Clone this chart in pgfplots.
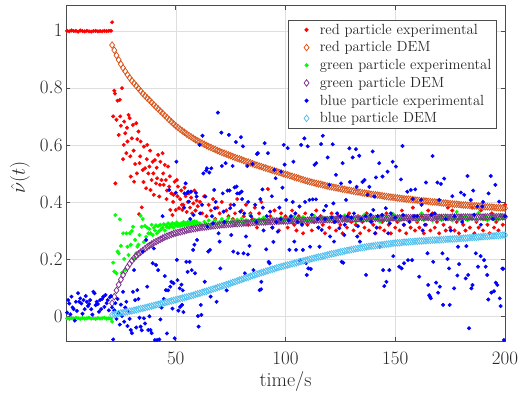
\RequirePackage{fix-cm}
\documentclass[border=0pt]{standalone}
\usepackage{pgfplots}
\pgfplotsset{compat=1.18}
\definecolor{redexp}{rgb}{1,0,0}
\definecolor{reddem}{rgb}{0.85,0.325,0.098}
\definecolor{greenexp}{rgb}{0,1,0}
\definecolor{greendem}{rgb}{0.494,0.184,0.556}
\definecolor{blueexp}{rgb}{0,0,1}
\definecolor{bluedem}{rgb}{0.301,0.745,0.933}
\pgfplotsset{
 legimg/.style={legend image code/.code={\path[draw=none,fill=none] (0pt,0pt) (26pt,0pt); \draw[##1] plot[only marks] coordinates {(15.7pt,0pt)};}},
 expdots/.style={only marks, mark=*, mark size=1.8pt, color=#1, mark options={draw=none, fill=#1}, legimg},
 demdia/.style={only marks, mark=diamond, mark size=3.3pt, color=#1, mark options={line width=0.75pt, fill=none}, legimg},
}
\begin{document}
\begin{tikzpicture}
\useasboundingbox (-66pt,-58.3pt) rectangle (455pt,341.7pt);
\begin{axis}[
 at={(0pt,0pt)}, anchor=south west,
 width=439pt, height=336pt, scale only axis,
 xmin=0, xmax=200, ymin=-0.09, ymax=1.088,
 xtick={50,100,150,200}, ytick={0,0.2,0.4,0.6,0.8,1},
 xticklabels={$50$,$100$,$150$,$200$},
 yticklabels={$0$,$0.2$,$0.4$,$0.6$,$0.8$,$1$},
 xtick pos=both, ytick pos=both, tick align=inside,
 major tick length=4.5pt,
 grid=major, major grid style={black!13, line width=0.5pt},
 axis line style={black!70, line width=0.6pt},
 every tick/.style={black!70, line width=0.6pt},
 tick label style={font=\fontsize{19}{19}\selectfont, color=black!85, inner sep=0pt},
 yticklabel style={xshift=-3.3pt},
 xticklabel style={yshift=-10pt},
 xlabel={time/s},
 xlabel style={font=\fontsize{20}{20}\selectfont, color=black!85, at={(axis description cs:0.5,0)}, anchor=center, yshift=-40pt},
 ylabel={$\hat{\nu}(t)$},
 ylabel style={font=\fontsize{20}{20}\selectfont, color=black!85, at={(axis description cs:-0.1048,0.49)}, anchor=center},
 legend style={at={(1,1)}, anchor=north east, xshift=-8pt, yshift=-14pt, draw=black!70, line width=0.6pt, fill=white,
   font=\fontsize{14.7}{14.7}\selectfont, text=black!85, inner xsep=2.3pt, inner ysep=1pt, nodes={inner sep=3pt}, row sep=0pt},
 legend cell align=left,
 clip=false,
]
% red particle experimental
\addplot[expdots=redexp] coordinates {
(0.5,1.0)(1.5,0.998)(2.5,1.001)(3.5,0.999)(4.5,1.0)(5.5,0.997)(6.5,1.001)(7.5,0.999)(8.5,0.998)(9.5,1.0)(10.5,0.998)(11.5,0.997)(12.5,0.999)(13.5,1.0)(14.5,0.998)(15.5,0.999)(16.5,0.998)(17.5,1.0)(18.5,0.999)(19.5,1.0)(20.5,1.0)
(21.0,1.03)(21.5,0.70)(22.0,0.79)(22.5,0.465)(23.0,0.688)(23.5,0.755)(24.0,0.635)(24.5,0.758)(25.0,0.667)(25.5,0.799)
(26.0,0.55)(26.5,0.682)(27.0,0.641)(27.5,0.571)(28.0,0.612)(28.5,0.705)(29.0,0.694)(29.5,0.489)(30.0,0.623)(30.5,0.670)
(31.0,0.471)(31.5,0.533)(32.0,0.676)(32.5,0.62)(33.0,0.647)(33.5,0.536)(34.0,0.612)(34.5,0.381)(35.0,0.512)(35.5,0.594)
(36.0,0.518)(36.5,0.448)(37.0,0.60)(37.5,0.50)(38.0,0.524)(38.5,0.442)(39.0,0.477)(39.5,0.541)(40.0,0.425)(40.5,0.547)
(41.0,0.465)(41.5,0.483)(42.0,0.565)(42.5,0.419)(43.0,0.541)(43.5,0.477)(44.0,0.571)(44.5,0.46)(45.0,0.53)(45.5,0.477)
(46.0,0.44)(46.5,0.524)(47.0,0.454)(47.5,0.372)(48.0,0.43)(48.5,0.354)(49.0,0.425)(49.5,0.471)(50.0,0.372)(50.5,0.477)
(51.0,0.454)(51.5,0.378)(52.0,0.41)(52.5,0.44)(53.0,0.372)(53.5,0.39)(54.0,0.45)(54.5,0.42)(55.0,0.365)(55.5,0.40)
(56.0,0.43)(56.5,0.38)(57.0,0.415)(57.5,0.36)(58.0,0.395)(58.5,0.44)(59.0,0.37)(59.5,0.405)(60.0,0.385)(33.3,0.357)
(22.3,0.78)(24.7,0.70)(26.3,0.60)(27.8,0.66)(29.3,0.56)(30.8,0.58)(32.3,0.50)(33.8,0.56)(35.3,0.47)(36.8,0.55)
(38.3,0.58)(39.8,0.50)(41.3,0.52)(42.8,0.46)(44.3,0.50)(45.8,0.41)(47.3,0.49)(48.8,0.40)(50.8,0.42)(52.8,0.39)
(61,0.40)(62,0.36)(63,0.42)(64,0.35)(65,0.39)(66,0.37)(67,0.41)(68,0.34)(69,0.38)(70,0.36)
(71,0.40)(72,0.33)(73,0.37)(74,0.35)(75,0.39)(76,0.34)(77,0.36)(78,0.41)(79,0.33)(80,0.37)
(81,0.35)(82,0.39)(83,0.32)(84,0.36)(85,0.34)(86,0.38)(87,0.31)(88,0.36)(89,0.40)(90,0.34)
(91,0.33)(92,0.445)(93,0.35)(94,0.31)(95,0.37)(96,0.34)(97,0.30)(98,0.36)(99,0.33)(100,0.35)
(101,0.31)(102,0.34)(103,0.37)(104,0.32)(105,0.30)(106,0.35)(107,0.33)(108,0.29)(109,0.36)(110,0.32)
(111,0.34)(112,0.30)(113,0.33)(114,0.37)(115,0.31)(116,0.35)(117,0.32)(118,0.29)(119,0.34)(120,0.31)
(121,0.36)(122,0.33)(123,0.30)(124,0.35)(125,0.32)(126,0.29)(127,0.34)(128,0.31)(129,0.36)(130,0.33)
(131,0.30)(132,0.32)(133,0.35)(134,0.29)(135,0.33)(136,0.31)(137,0.36)(138,0.30)(139,0.34)(140,0.32)
(141,0.29)(142,0.35)(143,0.31)(144,0.33)(145,0.30)(146,0.36)(147,0.32)(148,0.29)(149,0.34)(150,0.31)
(151,0.33)(152,0.30)(153,0.37)(154,0.32)(155,0.29)(156,0.34)(157,0.31)(158,0.38)(159,0.30)(160,0.33)
(161,0.31)(162,0.35)(163,0.29)(164,0.32)(165,0.37)(166,0.30)(167,0.36)(168,0.31)(169,0.33)(170,0.29)
(171,0.35)(172,0.32)(173,0.30)(174,0.38)(175,0.31)(176,0.37)(177,0.30)(178,0.33)(179,0.29)(180,0.35)
(181,0.32)(182,0.30)(183,0.34)(184,0.31)(185,0.38)(186,0.29)(187,0.33)(188,0.31)(189,0.37)(190,0.30)
(191,0.34)(192,0.32)(193,0.29)(194,0.36)(195,0.31)(196,0.33)(197,0.30)(198,0.35)(199,0.32)(200,0.39)
};
\addlegendentry{red particle experimental}
% red particle DEM
\addplot[demdia=reddem] coordinates {
(21,0.95)(22,0.932)(23,0.914)(24,0.898)(25,0.883)(26,0.870)(27,0.858)(28,0.846)(29,0.835)(30,0.825)
(31,0.816)(32,0.807)(33,0.798)(34,0.789)(35,0.78)(36,0.772)(37,0.764)(38,0.757)(39,0.749)(40,0.741)
(41,0.733)(42,0.726)(43,0.718)(44,0.711)(45,0.703)(46,0.696)(47,0.688)(48,0.681)(49,0.674)(50,0.667)
(51,0.661)(52,0.655)(53,0.649)(54,0.644)(55,0.638)(56,0.633)(57,0.628)(58,0.623)(59,0.618)(60,0.614)
(61,0.61)(62,0.606)(63,0.602)(64,0.598)(65,0.594)(66,0.591)(67,0.587)(68,0.584)(69,0.58)(70,0.577)
(71,0.574)(72,0.571)(73,0.568)(74,0.565)(75,0.562)(76,0.559)(77,0.556)(78,0.553)(79,0.551)(80,0.548)
(81,0.545)(82,0.542)(83,0.54)(84,0.537)(85,0.534)(86,0.531)(87,0.529)(88,0.526)(89,0.524)(90,0.521)
(91,0.519)(92,0.516)(93,0.514)(94,0.511)(95,0.509)(96,0.507)(97,0.504)(98,0.502)(99,0.499)(100,0.497)
(101,0.495)(102,0.492)(103,0.49)(104,0.487)(105,0.485)(106,0.483)(107,0.48)(108,0.478)(109,0.475)(110,0.473)
(111,0.471)(112,0.469)(113,0.467)(114,0.465)(115,0.463)(116,0.462)(117,0.46)(118,0.458)(119,0.456)(120,0.454)
(121,0.453)(122,0.451)(123,0.45)(124,0.448)(125,0.447)(126,0.445)(127,0.444)(128,0.442)(129,0.441)(130,0.439)
(131,0.438)(132,0.436)(133,0.435)(134,0.434)(135,0.432)(136,0.431)(137,0.43)(138,0.429)(139,0.427)(140,0.426)
(141,0.425)(142,0.424)(143,0.423)(144,0.422)(145,0.42)(146,0.419)(147,0.418)(148,0.417)(149,0.416)(150,0.415)
(151,0.414)(152,0.413)(153,0.412)(154,0.411)(155,0.41)(156,0.41)(157,0.409)(158,0.408)(159,0.407)(160,0.406)
(161,0.405)(162,0.404)(163,0.404)(164,0.403)(165,0.402)(166,0.401)(167,0.4)(168,0.4)(169,0.399)(170,0.398)
(171,0.397)(172,0.396)(173,0.396)(174,0.395)(175,0.394)(176,0.393)(177,0.392)(178,0.392)(179,0.391)(180,0.39)
(181,0.389)(182,0.389)(183,0.388)(184,0.388)(185,0.387)(186,0.386)(187,0.386)(188,0.385)(189,0.385)(190,0.384)
(191,0.383)(192,0.383)(193,0.382)(194,0.382)(195,0.381)(196,0.38)(197,0.38)(198,0.379)(199,0.379)(200,0.378)
};
\addlegendentry{red particle DEM}
% green particle experimental
\addplot[expdots=greenexp] coordinates {
(0.5,-0.008)(1.5,-0.01)(2.5,-0.007)(3.5,-0.009)(4.5,-0.006)(5.5,-0.008)(6.5,-0.01)(7.5,-0.007)(8.5,-0.009)(9.5,-0.008)(10.5,-0.006)
(11.5,-0.009)(12.5,-0.008)(13.5,-0.01)(14.5,-0.007)(15.5,-0.009)(16.5,-0.008)(17.5,-0.006)(18.5,-0.009)(19.5,-0.008)(20.5,-0.01)
(21.0,-0.02)(21.5,0.187)(22.0,0.156)(22.5,0.354)(23.0,0.15)(23.5,0.226)(24.0,0.22)(24.5,0.339)(25.0,0.246)(25.5,0.152)
(26.0,0.29)(26.5,0.2)(27.0,0.161)(27.5,0.29)(28.0,0.243)(28.5,0.214)(29.0,0.29)(29.5,0.25)(30.0,0.298)(30.5,0.313)
(31.0,0.2)(31.5,0.267)(32.0,0.22)(32.5,0.243)(33.0,0.25)(33.5,0.284)(34.0,0.351)(34.5,0.313)(35.0,0.34)(35.5,0.26)
(36.0,0.316)(36.5,0.278)(37.0,0.31)(37.5,0.29)(38.0,0.305)(38.5,0.29)(39.0,0.32)(39.5,0.284)(40.0,0.31)(40.5,0.30)
(41.0,0.318)(41.5,0.29)(42.0,0.315)(42.5,0.298)(43.0,0.32)(43.5,0.305)(44.0,0.31)(44.5,0.322)(45.0,0.30)(45.5,0.318)
(46.0,0.312)(46.5,0.325)(47.0,0.31)(47.5,0.32)(48.0,0.315)(48.5,0.326)(49.0,0.31)(49.5,0.322)(50.0,0.318)(50.5,0.328)
(51.0,0.315)(51.5,0.322)(52.0,0.316)(52.5,0.325)(53.0,0.318)(53.5,0.33)(54.0,0.32)(54.5,0.325)(55.0,0.318)(55.5,0.33)
(56.0,0.322)(56.5,0.327)(57.0,0.32)(57.5,0.33)(58.0,0.324)(58.5,0.332)(59.0,0.322)(59.5,0.33)(60.0,0.326)
(61,0.325)(62,0.318)(63,0.33)(64,0.322)(65,0.335)(66,0.32)(67,0.328)(68,0.336)(69,0.322)(70,0.33)
(71,0.34)(72,0.325)(73,0.333)(74,0.343)(75,0.328)(76,0.335)(77,0.322)(78,0.338)(79,0.33)(80,0.342)
(81,0.327)(82,0.336)(83,0.33)(84,0.354)(85,0.332)(86,0.338)(87,0.326)(88,0.34)(89,0.333)(90,0.345)
(91,0.33)(92,0.338)(93,0.328)(94,0.342)(95,0.335)(96,0.34)(97,0.33)(98,0.345)(99,0.333)(100,0.34)
(101,0.338)(102,0.345)(103,0.332)(104,0.35)(105,0.336)(106,0.342)(107,0.33)(108,0.347)(109,0.339)(110,0.334)
(111,0.343)(112,0.336)(113,0.352)(114,0.331)(115,0.341)(116,0.338)(117,0.346)(118,0.333)(119,0.344)(120,0.337)
(121,0.349)(122,0.335)(123,0.342)(124,0.33)(125,0.346)(126,0.339)(127,0.353)(128,0.334)(129,0.343)(130,0.337)
(131,0.345)(132,0.332)(133,0.348)(134,0.338)(135,0.341)(136,0.355)(137,0.336)(138,0.344)(139,0.333)(140,0.347)
(141,0.339)(142,0.343)(143,0.331)(144,0.35)(145,0.337)(146,0.345)(147,0.334)(148,0.342)(149,0.358)(150,0.338)
(151,0.346)(152,0.335)(153,0.343)(154,0.339)(155,0.351)(156,0.333)(157,0.344)(158,0.34)(159,0.348)(160,0.336)
(161,0.342)(162,0.36)(163,0.337)(164,0.345)(165,0.339)(166,0.35)(167,0.334)(168,0.346)(169,0.341)(170,0.348)
(171,0.337)(172,0.344)(173,0.352)(174,0.339)(175,0.347)(176,0.335)(177,0.343)(178,0.365)(179,0.338)(180,0.346)
(181,0.341)(182,0.349)(183,0.336)(184,0.345)(185,0.34)(186,0.353)(187,0.337)(188,0.362)(189,0.343)(190,0.339)
(191,0.348)(192,0.336)(193,0.344)(194,0.351)(195,0.34)(196,0.346)(197,0.338)(198,0.355)(199,0.342)(200,0.347)
};
\addlegendentry{green particle experimental}
% green particle DEM
\addplot[demdia=greendem] coordinates {
(21,0.045)(22,0.068)(23,0.09)(24,0.11)(25,0.128)(26,0.144)(27,0.158)(28,0.171)(29,0.183)(30,0.194)
(31,0.203)(32,0.211)(33,0.218)(34,0.224)(35,0.23)(36,0.236)(37,0.242)(38,0.247)(39,0.252)(40,0.257)
(41,0.261)(42,0.265)(43,0.269)(44,0.273)(45,0.277)(46,0.28)(47,0.283)(48,0.286)(49,0.289)(50,0.291)
(51,0.293)(52,0.295)(53,0.297)(54,0.299)(55,0.301)(56,0.303)(57,0.304)(58,0.306)(59,0.307)(60,0.309)
(61,0.31)(62,0.311)(63,0.312)(64,0.313)(65,0.314)(66,0.315)(67,0.316)(68,0.317)(69,0.318)(70,0.319)
(71,0.32)(72,0.32)(73,0.321)(74,0.322)(75,0.322)(76,0.323)(77,0.324)(78,0.324)(79,0.325)(80,0.325)
(81,0.326)(82,0.326)(83,0.327)(84,0.327)(85,0.328)(86,0.328)(87,0.329)(88,0.329)(89,0.33)(90,0.33)
(91,0.33)(92,0.331)(93,0.331)(94,0.331)(95,0.332)(96,0.332)(97,0.332)(98,0.333)(99,0.333)(100,0.333)
(101,0.333)(102,0.334)(103,0.334)(104,0.334)(105,0.334)(106,0.335)(107,0.335)(108,0.335)(109,0.335)(110,0.336)
(111,0.336)(112,0.336)(113,0.336)(114,0.337)(115,0.337)(116,0.337)(117,0.337)(118,0.338)(119,0.338)(120,0.338)
(121,0.338)(122,0.339)(123,0.339)(124,0.339)(125,0.339)(126,0.34)(127,0.34)(128,0.34)(129,0.34)(130,0.34)
(131,0.341)(132,0.341)(133,0.341)(134,0.341)(135,0.341)(136,0.342)(137,0.342)(138,0.342)(139,0.342)(140,0.342)
(141,0.342)(142,0.343)(143,0.343)(144,0.343)(145,0.343)(146,0.343)(147,0.343)(148,0.344)(149,0.344)(150,0.344)
(151,0.344)(152,0.344)(153,0.344)(154,0.345)(155,0.345)(156,0.345)(157,0.345)(158,0.345)(159,0.345)(160,0.345)
(161,0.346)(162,0.346)(163,0.346)(164,0.346)(165,0.346)(166,0.346)(167,0.346)(168,0.346)(169,0.346)(170,0.346)
(171,0.346)(172,0.346)(173,0.346)(174,0.346)(175,0.346)(176,0.347)(177,0.347)(178,0.347)(179,0.347)(180,0.347)
(181,0.347)(182,0.347)(183,0.347)(184,0.347)(185,0.347)(186,0.347)(187,0.347)(188,0.347)(189,0.347)(190,0.347)
(191,0.348)(192,0.348)(193,0.348)(194,0.348)(195,0.348)(196,0.348)(197,0.348)(198,0.348)(199,0.348)(200,0.348)
};
\addlegendentry{green particle DEM}
% blue particle experimental
\addplot[expdots=blueexp] coordinates {
(0.5,0.012)(1.0,0.056)(1.5,0.044)(2.0,0.006)(2.5,0.068)(3.0,0.03)(3.5,0.024)(4.0,-0.016)(4.5,0.05)(5.0,0.018)
(5.5,0.08)(6.0,0.05)(6.5,0.062)(7.0,0.044)(7.5,0.008)(8.0,0.056)(8.5,0.024)(9.0,0.07)(9.5,0.05)(10.0,0.035)
(10.5,0.042)(11.0,0.056)(11.5,0.024)(12.0,0.005)(12.5,0.085)(13.0,0.08)(13.5,0.038)(14.0,0.05)(14.5,0.042)(15.0,0.015)
(15.5,0.056)(16.0,0.024)(16.5,0.06)(17.0,0.068)(17.5,0.032)(18.0,0.074)(18.5,0.045)(19.0,0.056)(19.5,0.02)(20.0,0.066)
(20.5,0.07)(21.0,0.03)(21.5,-0.082)(22.0,0.02)(22.5,0.045)(23.0,-0.01)(23.5,0.06)(24.0,0.01)(24.5,-0.03)(25.0,0.04)
(25.5,0.0)(26.0,0.085)(26.5,-0.02)(27.0,0.03)(27.5,0.05)(28.0,-0.035)(28.5,0.015)(29.0,-0.01)(29.5,-0.049)(30.0,-0.06)
(30.5,0.085)(31.0,0.161)(31.5,0.056)(32.0,-0.04)(32.5,0.091)(33.0,0.06)(33.5,-0.006)(34.0,-0.037)(34.5,-0.05)(35.0,0.226)
(35.5,-0.008)(36.0,-0.026)(36.5,0.267)(37.0,0.103)(37.5,-0.049)(38.0,-0.001)(38.5,-0.049)(39.0,-0.06)(39.5,0.185)(40.0,0.237)
(40.5,-0.084)(41.0,0.179)(41.5,-0.084)(42.0,0.161)(42.5,-0.082)(43.0,-0.012)(43.5,0.03)(44.0,0.35)(44.5,0.06)(45.0,0.14)
(45.5,0.091)(46.0,-0.061)(46.5,0.09)(47.0,0.442)(47.5,0.103)(48.0,0.12)(48.5,0.026)(49.0,0.115)(49.5,-0.078)(50.0,0.432)
(50.3,0.541)(50.5,0.197)(50.8,0.126)(51.2,0.019)(51.8,0.097)(52.0,0.032)(52.6,0.11)(52.9,0.039)(53.2,0.09)(53.5,0.014)
(54.0,0.43)(54.5,0.465)(54.8,0.19)(55.1,0.43)(55.4,0.155)(55.7,0.436)(56.0,0.401)(56.3,0.19)(57.0,0.436)(57.3,0.161)
(57.9,0.232)(58.1,0.354)(58.5,0.25)(58.8,0.15)(59.2,0.432)(59.5,0.419)(59.7,0.267)(60.1,0.0)(60.4,-0.037)(60.9,0.6)
(61.1,0.36)(61.4,0.039)(61.7,0.004)(62.2,0.632)(62.6,0.5)(63.2,0.12)(63.5,0.419)(63.9,0.51)(64.2,0.518)(64.4,0.313)
(64.8,0.226)(65.3,0.503)(65.6,0.232)(65.9,0.068)(66.2,0.518)(67.0,0.325)(67.5,0.442)(67.9,0.378)(68.6,0.05)(69.2,0.713)
(69.5,0.29)(70.0,0.261)(70.3,0.167)(70.8,0.643)(71.0,0.526)(71.4,0.43)(71.8,0.366)(72.7,0.536)(73.2,0.09)(73.6,0.44)
(74.2,0.635)(74.5,0.44)(74.8,0.378)(75.3,0.284)(75.9,0.526)(76.2,0.226)(76.8,0.451)(77.4,0.61)(77.7,0.454)(78.0,0.43)
(78.3,0.22)(79.0,0.43)(79.4,0.366)(79.7,0.627)(80.0,0.436)(80.2,0.41)(80.6,0.595)(80.9,0.22)(81.5,0.15)(82.0,0.279)
(82.6,0.526)(82.9,0.216)(83.6,0.246)(84.3,0.35)(85.0,0.533)(85.4,0.161)(86.2,0.39)(87.0,0.568)(87.4,0.571)(88.2,0.091)
(88.9,0.094)(89.0,0.12)(89.5,0.444)(89.7,0.38)(90.0,0.3)(90.5,0.606)(91.2,0.234)(92.0,0.571)(92.3,0.19)(92.7,0.185)
(93.0,0.366)(93.8,0.42)(94.5,0.26)(95.0,0.512)(95.5,0.483)(95.8,0.33)(96.5,0.296)(97.2,0.38)(98.0,0.506)(98.6,0.45)
(99.2,0.6)(99.6,0.531)(53.8,0.38)(56.6,0.34)(62.0,0.39)(66.5,0.35)(68.2,0.4)(72.2,0.33)(76.5,0.39)(81.2,0.36)
(83.0,0.4)(86.8,0.33)(88.5,0.41)(91.5,0.35)(94.0,0.31)(97.8,0.34)
(100.3,0.407)(101.0,0.589)(101.8,0.232)(102.5,0.35)(103.3,0.4)(103.6,0.541)(104.0,0.261)(104.8,0.232)(105.5,0.33)(106.4,0.384)
(106.7,0.196)(107.1,0.6)(107.9,0.232)(108.6,0.623)(108.9,0.4)(109.4,0.185)(109.7,0.144)(110.1,0.595)(110.4,0.167)(110.9,0.407)
(111.2,0.243)(111.5,0.165)(112.4,0.409)(113.2,0.53)(113.9,0.409)(114.0,0.536)(114.7,0.34)(115.5,0.243)(116.2,0.603)(116.5,0.302)
(117.0,0.632)(117.5,0.37)(118.5,0.386)(119.2,0.556)(120.0,0.46)(120.3,0.279)(121.0,0.345)(121.5,0.602)(121.8,0.395)(122.1,0.261)
(123.0,0.495)(123.5,0.36)(124.5,0.308)(125.3,0.465)(125.6,0.19)(126.0,0.536)(126.3,0.187)(126.8,0.284)(127.6,0.407)(128.3,0.35)
(129.1,0.588)(129.4,0.47)(130.6,0.556)(131.2,0.36)(132.1,0.585)(132.4,0.453)(132.7,0.279)(133.6,0.562)(133.9,0.261)(134.5,0.34)
(135.1,0.47)(136.0,0.477)(136.7,0.144)(137.4,0.425)(138.2,0.453)(138.8,0.355)(139.7,0.577)(140.0,0.372)(140.5,0.419)(140.8,0.29)
(141.2,0.486)(142.0,0.35)(142.7,0.536)(143.0,0.243)(144.2,0.489)(144.5,0.161)(145.0,0.105)(145.7,0.378)(146.0,0.12)(146.5,0.506)
(146.8,0.29)(147.3,0.161)(148.0,0.36)(148.8,0.541)(149.1,0.21)(150.3,0.524)
(101.5,0.335)(104.5,0.36)(107.5,0.32)(112.0,0.355)(115.0,0.31)(118.0,0.34)(122.5,0.33)(125.0,0.35)(127.0,0.32)(130.0,0.345)
(133.0,0.315)(136.5,0.35)(139.0,0.33)(141.5,0.31)(144.0,0.355)(147.5,0.325)(150.0,0.345)
(151.8,0.173)(152.6,0.479)(152.9,0.167)(153.3,0.596)(153.6,0.354)(153.9,0.32)(154.0,0.185)(155.5,0.436)(155.8,0.196)(157.1,0.442)
(157.7,0.196)(158.5,0.35)(159.1,0.444)(160.9,0.138)(161.8,0.407)(162.5,0.3)(164.0,0.468)(164.7,0.22)(165.0,0.109)(165.5,0.073)
(165.8,0.068)(166.2,0.062)(167.0,0.561)(167.3,0.19)(168.0,0.36)(168.6,0.117)(169.2,0.468)(169.5,0.082)(170.0,0.407)(170.3,0.103)
(170.8,0.463)(171.5,0.22)(171.8,0.039)(172.3,0.482)(173.8,0.2)(174.5,0.167)(174.8,0.039)(175.3,0.3)(176.8,0.097)(178.3,0.142)
(178.6,0.243)(179.1,0.182)(179.9,0.433)(181.4,0.425)(182.1,0.132)(182.4,0.245)(182.9,0.491)(183.2,0.144)(183.6,-0.043)(184.4,0.407)
(184.7,0.097)(185.2,0.109)(186.7,0.22)(187.4,0.384)(187.7,0.173)(188.9,0.21)(189.7,0.384)(190.5,0.196)(191.2,0.173)(191.9,0.144)
(192.4,0.058)(193.5,0.491)(193.8,0.082)(195.0,0.087)(195.6,0.46)(195.8,0.117)(196.5,0.109)(197.3,0.401)(197.6,0.062)(198.0,0.035)
(198.8,0.166)(199.2,0.166)(199.5,-0.084)
(156.5,0.33)(160.0,0.35)(163.5,0.32)(166.5,0.355)(173.0,0.34)(177.0,0.35)(180.5,0.33)(186.0,0.355)(189.0,0.32)(194.5,0.34)
(200.0,0.35)(158.0,0.41)(162.0,0.39)(176.0,0.42)(185.5,0.44)(190.0,0.40)(192.5,0.43)
};
\addlegendentry{blue particle experimental}
% blue particle DEM
\addplot[demdia=bluedem] coordinates {
(21,0.004)(22,0.006)(23,0.008)(24,0.009)(25,0.011)(26,0.012)(27,0.014)(28,0.015)(29,0.017)(30,0.018)
(31,0.02)(32,0.022)(33,0.024)(34,0.026)(35,0.027)(36,0.029)(37,0.031)(38,0.033)(39,0.035)(40,0.037)
(41,0.039)(42,0.041)(43,0.043)(44,0.045)(45,0.047)(46,0.049)(47,0.051)(48,0.053)(49,0.055)(50,0.057)
(51,0.059)(52,0.061)(53,0.063)(54,0.065)(55,0.067)(56,0.069)(57,0.071)(58,0.073)(59,0.076)(60,0.078)
(61,0.08)(62,0.083)(63,0.085)(64,0.087)(65,0.09)(66,0.092)(67,0.095)(68,0.097)(69,0.1)(70,0.102)
(71,0.105)(72,0.107)(73,0.11)(74,0.112)(75,0.115)(76,0.118)(77,0.12)(78,0.123)(79,0.126)(80,0.128)
(81,0.131)(82,0.134)(83,0.136)(84,0.139)(85,0.142)(86,0.144)(87,0.147)(88,0.149)(89,0.152)(90,0.154)
(91,0.157)(92,0.159)(93,0.162)(94,0.164)(95,0.166)(96,0.169)(97,0.171)(98,0.173)(99,0.175)(100,0.177)
(101,0.179)(102,0.181)(103,0.183)(104,0.185)(105,0.187)(106,0.189)(107,0.191)(108,0.193)(109,0.195)(110,0.197)
(111,0.199)(112,0.201)(113,0.203)(114,0.205)(115,0.207)(116,0.208)(117,0.21)(118,0.212)(119,0.214)(120,0.216)
(121,0.218)(122,0.219)(123,0.221)(124,0.223)(125,0.225)(126,0.226)(127,0.228)(128,0.23)(129,0.231)(130,0.233)
(131,0.234)(132,0.236)(133,0.237)(134,0.239)(135,0.24)(136,0.241)(137,0.243)(138,0.244)(139,0.245)(140,0.246)
(141,0.247)(142,0.248)(143,0.249)(144,0.25)(145,0.251)(146,0.252)(147,0.253)(148,0.254)(149,0.255)(150,0.256)
(151,0.257)(152,0.257)(153,0.258)(154,0.259)(155,0.259)(156,0.26)(157,0.261)(158,0.261)(159,0.262)(160,0.262)
(161,0.263)(162,0.263)(163,0.264)(164,0.264)(165,0.265)(166,0.265)(167,0.266)(168,0.266)(169,0.267)(170,0.267)
(171,0.268)(172,0.268)(173,0.269)(174,0.269)(175,0.27)(176,0.27)(177,0.271)(178,0.271)(179,0.272)(180,0.272)
(181,0.273)(182,0.273)(183,0.274)(184,0.275)(185,0.275)(186,0.276)(187,0.276)(188,0.277)(189,0.278)(190,0.278)
(191,0.279)(192,0.279)(193,0.28)(194,0.281)(195,0.281)(196,0.282)(197,0.282)(198,0.283)(199,0.284)(200,0.284)
};
\addlegendentry{blue particle DEM}
\end{axis}
\end{tikzpicture}
\end{document}
